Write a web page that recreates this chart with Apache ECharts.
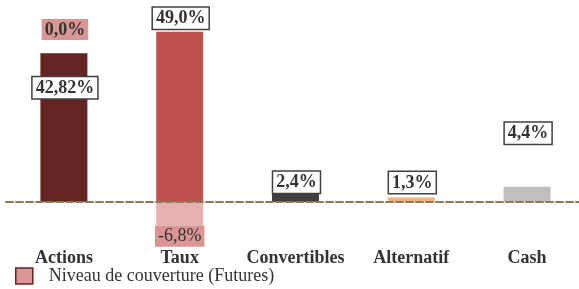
<!DOCTYPE html>
<html>
<head>
<meta charset="utf-8">
<script src="https://cdn.jsdelivr.net/npm/echarts@6/dist/echarts.min.js"></script>
<style>
    html, body { margin: 0; padding: 0; background: #fff; }
    #container { width: 579px; height: 289px; }
</style>
</head>
<body>
<div id="container"></div>
<script>
var categories = ['Actions', 'Taux', 'Convertibles', 'Alternatif', 'Cash'];
var allocation = [42.82, 49.0, 2.4, 1.3, 4.4];
var hedge = [0.0, -6.8, null, null, null];
var hedgeName = 'Niveau de couverture (Futures)';

// styles
var barColors = ['#632523', '#c0504d', '#3f3f3f', '#f8b27e', '#bfbfbf'];
var labelShift = [48, 0, 2, -1.5, -40];
var fontFamily = '"Liberation Serif", serif';

var dom = document.getElementById("container");
var myChart = echarts.init(dom);

var fmt = (v) => {
    let d = Math.abs(v * 10 - Math.round(v * 10)) > 1e-6 ? 2 : 1;
    return v.toFixed(d).replace('.', ',') + '%';
};

var mainData = allocation.map((v, i) => {
    return {
        value: v,
        itemStyle: { color: barColors[i] },
        label: { offset: [1, labelShift[i]] }
    };
});

var hedgeData = hedge.map((v, i) => {
    if (v === null) return null;
    return {
        value: v,
        label: {
            position: v >= 0 ? 'top' : 'bottom',
            offset: v >= 0 ? [1, -162] : [0, 0],
            fontWeight: v >= 0 ? 'bold' : 'normal'
        }
    };
});

var option = {
    animation: false,
    grid: { left: 6, width: 579, top: 28.25, height: 208.5, containLabel: false, outerBoundsMode: 'none' },
    legend: {
        left: 15,
        top: 267,
        padding: 0,
        icon: 'rect',
        itemWidth: 17,
        itemHeight: 16,
        textStyle: { fontFamily: fontFamily, fontSize: 18, color: '#333', padding: [3, 0, 0, 11] },
        data: [{ name: hedgeName, itemStyle: { color: '#d99694', borderColor: '#632523', borderWidth: 1.5 } }]
    },
    xAxis: {
        type: 'category',
        data: categories,
        z: 10,
        axisLine: { onZero: true, lineStyle: { color: '#8c7b5b', width: 2, type: [7, 3] } },
        axisTick: { show: false },
        axisLabel: { interval: 0, margin: 13, fontFamily: fontFamily, fontSize: 18, fontWeight: 'bold', color: '#333' }
    },
    yAxis: {
        type: 'value',
        min: -10,
        max: 50,
        show: false,
        splitLine: { show: false }
    },
    series: [
        {
            name: 'Allocation',
            type: 'bar',
            barWidth: 47,
            data: mainData,
            label: {
                show: true,
                position: 'top',
                distance: 3,
                formatter: (p) => fmt(p.value),
                fontFamily: fontFamily,
                fontSize: 18,
                fontWeight: 'bold',
                color: '#333',
                backgroundColor: '#fff',
                borderColor: '#404040',
                borderWidth: 1.5,
                padding: [2, 3, 1, 3]
            }
        },
        {
            name: hedgeName,
            type: 'bar',
            barWidth: 47,
            barGap: '-100%',
            data: hedgeData,
            itemStyle: { color: '#e5b2b1' },
            label: {
                show: true,
                distance: 0,
                formatter: (p) => fmt(p.value),
                fontFamily: fontFamily,
                fontSize: 18,
                color: '#333',
                backgroundColor: '#d99694',
                padding: [2, 3, 1, 3]
            }
        }
    ]
};
myChart.setOption(option, true);
</script>
</body>
</html>
